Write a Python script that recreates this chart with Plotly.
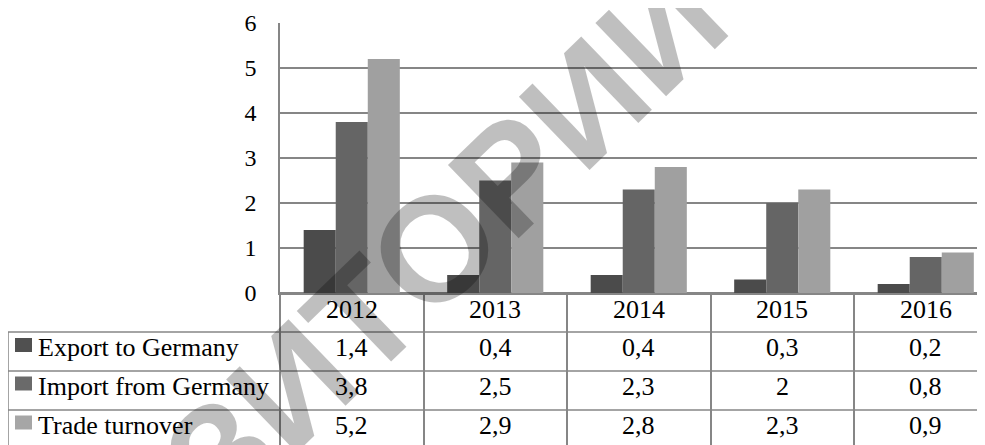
import plotly.graph_objects as go

categories = ["2012", "2013", "2014", "2015", "2016"]
export_to_germany = [1.4, 0.4, 0.4, 0.3, 0.2]
import_from_germany = [3.8, 2.5, 2.3, 2.0, 0.8]
trade_turnover = [5.2, 2.9, 2.8, 2.3, 0.9]
series_names = ["Export to Germany", "Import from Germany", "Trade turnover"]
y_ticks = [0, 1, 2, 3, 4, 5, 6]

series_values = [export_to_germany, import_from_germany, trade_turnover]
bar_colors = ["#4b4b4b", "#656565", "#a0a0a0"]
key_colors = ["#505050", "#6a6a6a", "#a6a6a6"]

# The page body has an 8px margin, so the figure is laid out in page pixels.
OFF = 8
W, H = 985, 445
PLOT_L, PLOT_T, PLOT_B = 280, 23, 293          # page pixels
ML, MT = PLOT_L - OFF, PLOT_T - OFF
MR = 0
MB = H - (PLOT_B - OFF)
PW, PH = W - ML - MR, PLOT_B - PLOT_T
CAT_W = 143.5
X_MAX = -0.5 + PW / CAT_W
LINE = "#868686"
FONT = "Liberation Serif"


def px_x(X):
    return (X - PLOT_L) / PW


def px_y(Y):
    return (PLOT_B - Y) / PH


def fmt(v):
    return f"{v:g}".replace(".", ",")


fig = go.Figure()
for name, vals, col in zip(series_names, series_values, bar_colors):
    fig.add_trace(go.Bar(x=categories, y=vals, name=name, marker=dict(color=col, line=dict(width=0))))

annotations = []
shapes = []

# watermark
annotations.append(dict(x=px_x(292), xref="paper", y=px_y(385), yref="paper", text="<b>РЕПОЗИТОРИЙ</b>",
                        showarrow=False, textangle=-44, xanchor="center", yanchor="middle",
                        font=dict(family="Liberation Sans", size=148, color="rgba(0,0,0,0.25)")))

TFS = 26
# header row (years)
header_y = px_y(309)
for i, c in enumerate(categories):
    annotations.append(dict(x=i, xref="x", y=header_y, yref="paper", text=c, showarrow=False,
                            xanchor="center", yanchor="middle", font=dict(family=FONT, size=TFS, color="#000")))

row_centers = [347.5, 386, 425.5]
key_centers = [345, 383.5, 422.5]
for r, (name, vals) in enumerate(zip(series_names, series_values)):
    yc = px_y(row_centers[r])
    annotations.append(dict(x=px_x(36), xref="paper", y=yc, yref="paper", text=name, showarrow=False,
                            xanchor="left", yanchor="middle", font=dict(family=FONT, size=TFS, color="#000")))
    for i, v in enumerate(vals):
        annotations.append(dict(x=i, xref="x", y=yc, yref="paper", text=fmt(v), showarrow=False,
                                xanchor="center", yanchor="middle", font=dict(family=FONT, size=TFS, color="#000")))
    kc = key_centers[r]
    shapes.append(dict(type="rect", xref="paper", yref="paper", x0=px_x(15), x1=px_x(32),
                       y0=px_y(kc + 7), y1=px_y(kc - 7), fillcolor=key_colors[r], line=dict(width=0)))

# table horizontal lines
for Y in [332, 371, 410]:
    shapes.append(dict(type="line", xref="paper", yref="paper", x0=px_x(8), x1=1.05, y0=px_y(Y), y1=px_y(Y),
                       line=dict(color=LINE, width=1.5)))
# left border of the label column
shapes.append(dict(type="line", xref="paper", yref="paper", x0=px_x(8), x1=px_x(8), y0=px_y(332), y1=px_y(460),
                   line=dict(color=LINE, width=1.5)))
# left border of the data area (continuation of y axis)
shapes.append(dict(type="line", xref="paper", yref="paper", x0=0, x1=0, y0=0, y1=px_y(460),
                   line=dict(color=LINE, width=1.5)))

fig.update_layout(
    width=W, height=H,
    margin=dict(l=ML, r=MR, t=MT, b=MB, pad=0, autoexpand=False),
    paper_bgcolor="white", plot_bgcolor="white",
    showlegend=False,
    barmode="group", bargap=0.33, bargroupgap=0,
    annotations=annotations, shapes=shapes,
    xaxis=dict(type="category", range=[-0.5, X_MAX], showgrid=False, showline=True, linecolor=LINE, linewidth=1.5,
               ticks="outside", tickson="boundaries", ticklen=170, tickcolor=LINE, tickwidth=1.5,
               showticklabels=False, zeroline=False, automargin=False),
    yaxis=dict(range=[0, 6], tickvals=y_ticks, showgrid=True, gridcolor=LINE, gridwidth=1.5,
               showline=True, linecolor=LINE, linewidth=1.5, zeroline=True, zerolinecolor=LINE, zerolinewidth=1.5,
               ticks="", ticklabelstandoff=17, automargin=False,
               tickfont=dict(family=FONT, size=24, color="#000")),
)

fig.write_html("out.html")
